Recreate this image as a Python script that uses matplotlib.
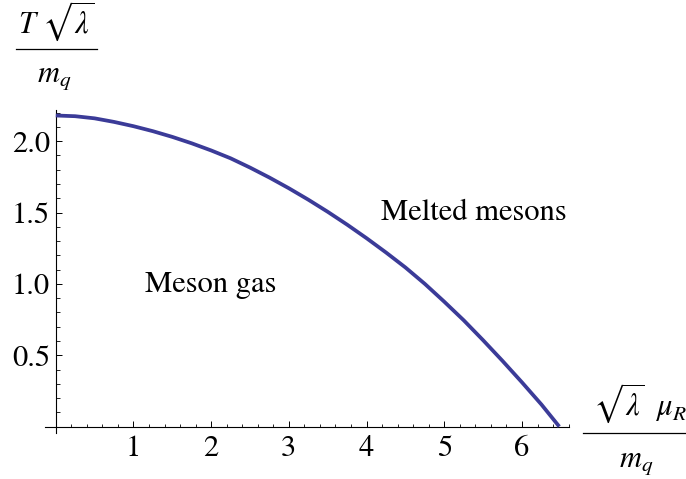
import numpy as np
import matplotlib
matplotlib.use('Agg')
import matplotlib.pyplot as plt
from matplotlib.lines import Line2D

# values
mu_r = [0.0, 0.25, 0.5, 0.75, 1.0, 1.25, 1.5, 1.75, 2.0, 2.25, 2.5, 2.75, 3.0, 3.25,
        3.5, 3.75, 4.0, 4.25, 4.5, 4.75, 5.0, 5.25, 5.5, 5.75, 6.0, 6.25, 6.48]
temp = [2.18, 2.175, 2.16, 2.135, 2.105, 2.07, 2.03, 1.985, 1.935, 1.88, 1.815, 1.745, 1.67, 1.59,
        1.505, 1.415, 1.32, 1.22, 1.115, 1.0, 0.875, 0.745, 0.605, 0.46, 0.31, 0.155, 0.0]

x_major = [1, 2, 3, 4, 5, 6]
x_minor = [0.2, 0.4, 0.6, 0.8, 1.2, 1.4, 1.6, 1.8, 2.2, 2.4, 2.6, 2.8, 3.2, 3.4, 3.6, 3.8,
           4.2, 4.4, 4.6, 4.8, 5.2, 5.4, 5.6, 5.8, 6.2, 6.4, 6.6]
y_major = [0.5, 1.0, 1.5, 2.0]
y_minor = [0.1, 0.2, 0.3, 0.4, 0.6, 0.7, 0.8, 0.9, 1.1, 1.2, 1.3, 1.4, 1.6, 1.7, 1.8, 1.9, 2.1, 2.2]

regions = ['Meson gas', 'Melted mesons']
region_pos = [(1.15, 0.94), (4.19, 1.45)]

plt.rcParams['font.family'] = ['STIXGeneral', 'Liberation Serif', 'DejaVu Serif']
plt.rcParams['mathtext.fontset'] = 'stix'

W, H = 686, 479
fig = plt.figure(figsize=(W / 100, H / 100), dpi=100)
ax = fig.add_axes([44.9 / W, 0.0969, 523.7 / W, 0.6739])

ax.plot(mu_r, temp, color='#3b3b98', lw=2.7, clip_on=False, zorder=3,
        solid_joinstyle='round', solid_capstyle='butt')

ax.set_xlim(-0.14, 6.6)
ax.set_ylim(-0.042, 2.22)

for s in ['top', 'right']:
    ax.spines[s].set_visible(False)
ax.spines['left'].set_position(('data', 0))
ax.spines['bottom'].set_position(('data', 0))
for s in ['left', 'bottom']:
    ax.spines[s].set_linewidth(0.8)

ax.set_xticks(x_major)
ax.set_xticklabels([str(v) for v in x_major])
ax.set_xticks(x_minor, minor=True)
ax.set_yticks(y_major)
ax.set_yticklabels(['%.1f' % v for v in y_major])
ax.set_yticks(y_minor, minor=True)

ax.tick_params(axis='x', which='major', direction='in', length=4, width=0.7, pad=6, labelsize=22)
ax.tick_params(axis='x', which='minor', direction='in', length=2.5, width=0.6)
ax.tick_params(axis='y', which='major', direction='in', length=4.5, width=0.7, pad=4, labelsize=22)
ax.tick_params(axis='y', which='minor', direction='in', length=3, width=0.6)

for label, (px, py) in zip(regions, region_pos):
    ax.text(px, py, label, fontsize=22, ha='left', va='baseline')

# y axis label (fraction) at top left
fig.text(56 / W, 1 - 33 / H, r'$T\ \sqrt{\lambda}$', fontsize=22, ha='center', va='baseline')
fig.add_artist(Line2D([16 / W, 97 / W], [1 - 49.3 / H] * 2, transform=fig.transFigure, color='k', lw=0.9))
fig.text(54 / W, 1 - 82 / H, r'$m_q$', fontsize=22, ha='center', va='baseline')

# x axis label (fraction) at the right end
fig.text(593 / W, 1 - 415 / H, r'$\sqrt{\lambda}\;\ \mu_R$', fontsize=22, ha='left', va='baseline')
fig.add_artist(Line2D([583 / W, 690 / W], [1 - 433 / H] * 2, transform=fig.transFigure, color='k', lw=0.9))
fig.text(636 / W, 1 - 467 / H, r'$m_q$', fontsize=22, ha='center', va='baseline')

fig.savefig('out.png', dpi=100)
